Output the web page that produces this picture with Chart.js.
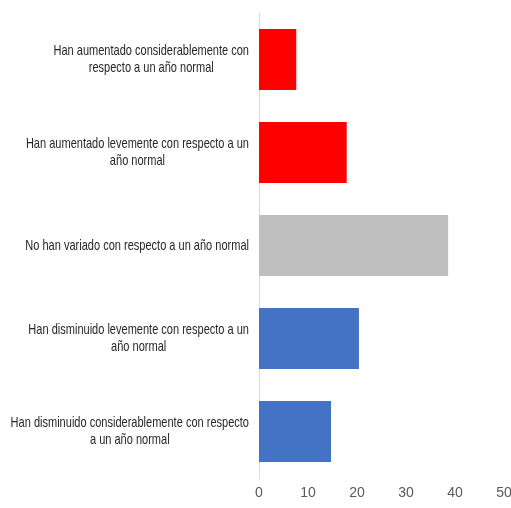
<!DOCTYPE html>
<html>
<head>
<meta charset="utf-8">
<script src="https://cdn.jsdelivr.net/npm/chart.js@4/dist/chart.umd.min.js"></script>
<style>
  html, body { margin: 0; padding: 0; background: #fff; }
  #wrap { width: 511px; height: 508px; }
</style>
</head>
<body>
<div id="wrap"><canvas id="chart" width="511" height="508"></canvas></div>
<script>
// Data
const categories = [
    ['Han aumentado considerablemente con', 'respecto a un año normal'],
    ['Han aumentado levemente con respecto a un', 'año normal'],
    ['No han variado con respecto a un año normal'],
    ['Han disminuido levemente con respecto a un', 'año normal'],
    ['Han disminuido considerablemente con respecto', 'a un año normal']
];
const values = [7.6, 17.9, 38.6, 20.4, 14.7];
const barColors = ['#FF0000', '#FF0000', '#BFBFBF', '#4472C4', '#4472C4'];
const xTicks = [0, 10, 20, 30, 40, 50];

// narrow look: Liberation Sans squeezed horizontally (no Arial Narrow here)
const labelFont = '15px "Liberation Sans", Arial, sans-serif';
const squeeze = 0.735;

// category labels: block right-aligned to the axis, lines centred inside the block
const centredLabels = {
    id: 'centredLabels',
    afterDraw(chart) {
        const ctx = chart.ctx;
        const yScale = chart.scales.y;
        ctx.save();
        ctx.font = labelFont;
        ctx.fillStyle = '#262626';
        ctx.textAlign = 'center';
        ctx.textBaseline = 'middle';
        ctx.scale(squeeze, 1);
        const lineH = 17;
        categories.forEach((lines, i) => {
            const maxW = Math.max(...lines.map(l => ctx.measureText(l).width)) * squeeze;
            const cx = yScale.right - 10 - maxW / 2;
            const cy = yScale.getPixelForTick(i);
            const y0 = cy - (lines.length - 1) * lineH / 2;
            lines.forEach((l, j) => ctx.fillText(l, cx / squeeze, y0 + j * lineH));
        });
        ctx.restore();
    }
};

new Chart(document.getElementById('chart').getContext('2d'), {
    type: 'bar',
    data: {
        labels: categories,
        datasets: [{
            data: values,
            backgroundColor: barColors,
            borderWidth: 0,
            barPercentage: 1,
            categoryPercentage: 0.655
        }]
    },
    options: {
        indexAxis: 'y',
        responsive: false,
        animation: false,
        devicePixelRatio: 1,
        layout: { padding: { top: 13, right: 7, left: 0, bottom: 0 } },
        plugins: {
            legend: { display: false },
            tooltip: { enabled: false }
        },
        scales: {
            x: {
                min: 0,
                max: 50,
                afterBuildTicks: (scale) => { scale.ticks = xTicks.map(v => ({ value: v })); },
                afterFit: (scale) => {
                    scale.height = 30;
                    scale.paddingLeft = 0;
                    scale.paddingRight = 0;
                },
                grid: { display: false, drawTicks: false },
                border: { display: false },
                ticks: {
                    padding: 7,
                    color: '#595959',
                    font: { family: '"Liberation Sans", Arial, sans-serif', size: 14 }
                }
            },
            y: {
                afterFit: (scale) => { scale.width = 259; },
                grid: { display: false, drawTicks: false },
                border: { display: true, color: '#D9D9D9', width: 1 },
                ticks: { display: false }
            }
        }
    },
    plugins: [centredLabels]
});
</script>
</body>
</html>
